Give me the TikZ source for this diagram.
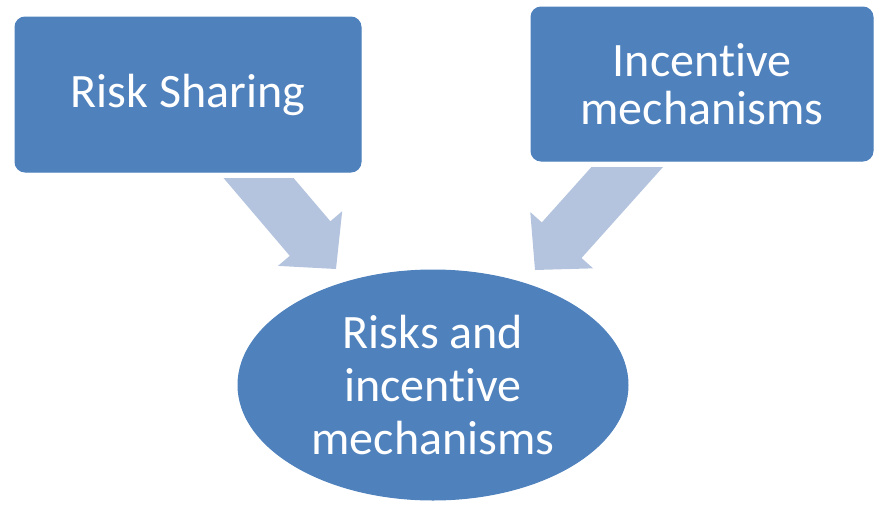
\documentclass[tikz,border=0pt]{standalone}
\usepackage{fontspec}
\setmainfont{Carlito}[Ligatures=NoCommon]
\usetikzlibrary{shapes.geometric,arrows.meta}

\definecolor{boxblue}{RGB}{79,129,189}
\definecolor{arrowblue}{RGB}{180,196,222}

\tikzset{every picture/.style={line width=0.75pt}}
\tikzset{
  bluebox/.style={fill=boxblue, draw=boxblue, text=white, align=center, inner sep=0pt},
  bigtext/.style={font=\fontsize{36}{36}\selectfont},
  blockarrow/.style={draw=arrowblue, line width=40pt,
    -{Triangle[length=30pt, width=63pt, line width=1.5pt, fill=arrowblue]}},
}

\begin{document}
\begin{tikzpicture}[x=0.75pt,y=0.75pt,yscale=-1,xscale=1]
\path[use as bounding box] (0,0) rectangle (875,504);

% ends of the two block arrows
\coordinate (lstart) at (233,148);
\coordinate (ltip) at (336,269);
\coordinate (rstart) at (655,136);
\coordinate (rtip) at (535,270);

%Block Arrow: left box down to the ellipse
\begin{scope}
\clip (0,178) rectangle (875,504);
\draw [blockarrow] (lstart) -- (ltip);
\end{scope}
%Block Arrow: right box down to the ellipse
\begin{scope}
\clip (0,167) rectangle (875,504);
\draw [blockarrow] (rstart) -- (rtip);
\end{scope}

%Shape: Rounded Rectangle
\node (sharing) [bluebox, bigtext, rounded corners=7.5pt, minimum width=259.5pt, minimum height=116.25pt] at (188,94.5) {Risk Sharing};
%Shape: Rounded Rectangle
\node (incentive) [bluebox, bigtext, rounded corners=7.5pt, minimum width=256.5pt, minimum height=115.5pt] at (702,84) {Incentive\\mechanisms};
%Shape: Ellipse
\node (risks) [bluebox, ellipse, font=\fontsize{36}{39.4}\selectfont, minimum width=292.5pt, minimum height=172.5pt] at (433,385) {Risks and\\incentive\\mechanisms};

\end{tikzpicture}
\end{document}
